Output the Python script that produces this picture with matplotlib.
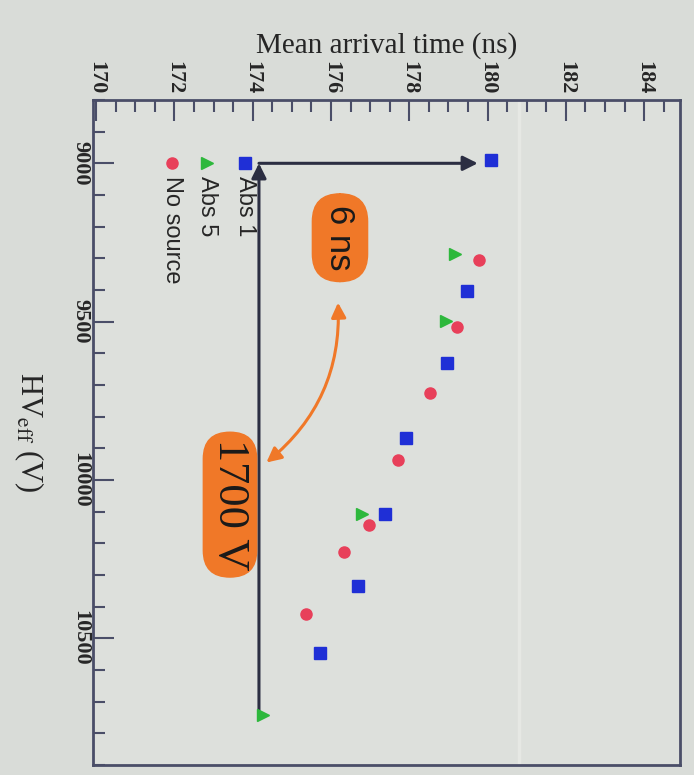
import matplotlib
matplotlib.use('Agg')
import matplotlib.pyplot as plt
from matplotlib.ticker import MultipleLocator

hv_abs1 = [8988, 9403, 9630, 9868, 10109, 10335, 10548]
t_abs1 = [180.09, 179.48, 178.97, 177.91, 177.37, 176.70, 175.72]

hv_abs5 = [9288, 9497, 10109, 10741]
t_abs5 = [179.17, 178.94, 176.79, 174.27]

hv_nosrc = [9306, 9516, 9724, 9936, 10143, 10227, 10424]
t_nosrc = [179.77, 179.22, 178.52, 177.72, 176.98, 176.34, 175.37]

series_names = ['Abs 1', 'Abs 5', 'No source']

# annotation anchors (time in ns, HV in V)
arrow_t0, arrow_t1 = 174.16, 179.75
arrow_hv_top, arrow_hv_bottom = 9000, 10735

plt.rcParams['font.family'] = ['Liberation Serif', 'DejaVu Serif']
plt.rcParams['mathtext.fontset'] = 'stix'

bg = '#d9dcd8'
frame = '#4a4e68'
ink = '#262626'

fig = plt.figure(figsize=(6.94, 7.75), dpi=100, facecolor=bg)
ax = fig.add_axes([0.134, 0.013, 0.846, 0.858], facecolor='#dde0dc')

# faint scan stripe
ax.axvline(180.8, color='#e6e8e4', lw=2.5, zorder=0)

ax.plot(t_abs1, hv_abs1, ls='none', marker='s', ms=8, color='#1f2fd6', zorder=4)
ax.plot(t_abs5, hv_abs5, ls='none', marker='>', ms=9, color='#2db83c', zorder=4)
ax.plot(t_nosrc, hv_nosrc, ls='none', marker='o', ms=8, color='#e8405a', zorder=4)

ax.set_xlim(169.92, 184.92)
ax.set_ylim(10900, 8800)

ax.xaxis.set_ticks_position('top')
ax.xaxis.set_label_position('top')
ax.xaxis.set_major_locator(MultipleLocator(2))
ax.xaxis.set_minor_locator(MultipleLocator(0.5))
ax.yaxis.set_major_locator(MultipleLocator(500))
ax.yaxis.set_minor_locator(MultipleLocator(100))
ax.tick_params(which='both', direction='in', colors=frame, labelcolor=ink,
               top=True, bottom=False, left=True, right=False, width=1.5)
ax.tick_params(which='major', length=15, labelsize=16)
ax.tick_params(which='minor', length=8.5)
ax.tick_params(axis='x', pad=4)
ax.tick_params(axis='y', pad=2)
for lab in ax.get_xticklabels() + ax.get_yticklabels():
    lab.set_rotation(-90)
    lab.set_fontweight('bold')
for lab in ax.get_xticklabels():
    lab.set_va('bottom')
    lab.set_ha('center')
for lab in ax.get_yticklabels():
    lab.set_va('center')
    lab.set_ha('right')

for s in ax.spines.values():
    s.set_color(frame)
    s.set_linewidth(2)

ax.set_xlabel('Mean arrival time (ns)', fontsize=21, color=ink, labelpad=6)
ax.set_ylabel(r'HV$_{\rm eff}$ (V)', fontsize=22, color=ink, rotation=-90,
              labelpad=30, va='center')

# legend, drawn by hand so the text can run downwards
leg_x = [0.259, 0.194, 0.135]
leg_marker = [('s', '#1f2fd6', 8), ('>', '#2db83c', 9), ('o', '#e8405a', 8)]
for name, x, (m, c, ms) in zip(series_names, leg_x, leg_marker):
    ax.plot([x], [0.905], transform=ax.transAxes, marker=m, color=c, ms=ms,
            ls='none', clip_on=False, zorder=5)
    ax.text(x, 0.885, name, transform=ax.transAxes, rotation=-90, ha='center',
            va='top', fontsize=17, family=['Liberation Sans', 'DejaVu Sans'],
            color=ink)

# black arrows
arrow_kw = dict(arrowstyle='-|>', color='#2b2e42', lw=2.2, mutation_scale=22,
                shrinkA=0, shrinkB=0)
ax.annotate('', xy=(arrow_t0, arrow_hv_top), xytext=(arrow_t0, arrow_hv_bottom),
            arrowprops=arrow_kw, zorder=3)
ax.annotate('', xy=(arrow_t1, arrow_hv_top), xytext=(arrow_t0, arrow_hv_top),
            arrowprops=arrow_kw, zorder=3)

# orange hand-drawn notes
orange = '#f07828'
ax.text(176.23, 9235, '6 ns', rotation=-90, ha='center', va='center', fontsize=25,
        family=['Liberation Sans', 'DejaVu Sans'], color='#1a1a1a', zorder=6,
        bbox=dict(boxstyle='round,pad=0.32,rounding_size=0.8', fc=orange, ec=orange))
ax.text(173.42, 10078, '1700 V', rotation=-90, ha='center', va='center', fontsize=32,
        color='#1a1a1a', zorder=6,
        bbox=dict(boxstyle='round,pad=0.15,rounding_size=0.6', fc=orange, ec=orange))
ax.annotate('', xy=(176.18, 9440), xytext=(174.35, 9945),
            arrowprops=dict(arrowstyle='<|-|>', color=orange, lw=2.2, mutation_scale=22,
                            shrinkA=0, shrinkB=0, connectionstyle='arc3,rad=0.25'),
            zorder=6)

fig.savefig('out.png', dpi=100, facecolor=bg)
